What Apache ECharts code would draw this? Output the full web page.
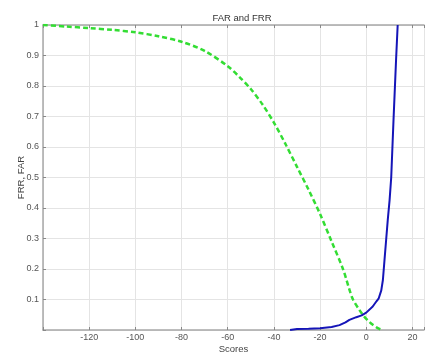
<!DOCTYPE html>
<html>
<head>
<meta charset="utf-8">
<script src="https://cdn.jsdelivr.net/npm/echarts@6/dist/echarts.min.js"></script>
<style>
html,body{margin:0;padding:0;background:#fff;}
#c{width:425px;height:354px;}
</style>
</head>
<body>
<div id="c"></div>
<script>
// FAR (green dashed): [score, rate]
const farScores = [-140,-130,-120,-110,-100,-90,-80,-70,-60,-55,-50,-45,-40,-35,-30,-25,-20,-15,-10,-6,-3,-1,1,3,5,7];
const farValues = [1.0,0.995,0.99,0.984,0.976,0.963,0.945,0.915,0.865,0.83,0.79,0.74,0.68,0.61,0.535,0.46,0.38,0.29,0.198,0.104,0.066,0.045,0.029,0.016,0.006,0.0];
// FRR (blue solid)
const frrScores = [-33,-30,-25,-20,-15,-11.6,-9,-7.3,-4.3,-2,0,2.8,4.5,5.4,6.5,7.2,7.9,8.6,9.3,10.1,10.8,11.8,12.9,13.6];
const frrValues = [0.0,0.003,0.004,0.006,0.01,0.016,0.025,0.033,0.042,0.048,0.057,0.077,0.095,0.104,0.13,0.164,0.23,0.295,0.36,0.426,0.5,0.689,0.885,1.0];
const xTicks = [-120,-100,-80,-60,-40,-20,0,20];
const yTicks = [0.1,0.2,0.3,0.4,0.5,0.6,0.7,0.8,0.9,1];

const farData = farScores.map((s,i)=>[s,farValues[i]]);
const frrData = frrScores.map((s,i)=>[s,frrValues[i]]);

const font = 'Liberation Sans, Arial, sans-serif';
const axisCol = '#a8a8a8';
const chart = echarts.init(document.getElementById('c'));
chart.setOption({
  animation:false,
  title:{text:'FAR and FRR', left:237, top:8, textAlign:'center',
    textStyle:{fontFamily:font, fontSize:9.5, fontWeight:'normal', color:'#333'}},
  grid:{left:43, right:1, top:25, bottom:24, containLabel:false, outerBoundsMode:'none'},
  xAxis:[{
    type:'value', min:-140, max:25, interval:20,
    name:'Scores', nameLocation:'middle', nameGap:19, nameMoveOverlap:false,
    nameTextStyle:{fontFamily:font, fontSize:9.5, color:'#444', verticalAlign:'middle'},
    axisLine:{show:true, onZero:false, lineStyle:{color:axisCol, width:1.5}},
    axisTick:{show:true, inside:true, length:3, lineStyle:{color:'#888'}},
    axisLabel:{fontFamily:font, fontSize:9, color:'#555', margin:3,
      formatter:v=>xTicks.includes(v)?String(v):''},
    splitLine:{show:true, lineStyle:{color:'#e4e4e4', width:1}}
  },{
    type:'value', min:-140, max:25, interval:20, position:'top',
    axisLine:{show:true, onZero:false, lineStyle:{color:axisCol, width:1.5}},
    axisTick:{show:true, inside:true, length:3, lineStyle:{color:'#888'}},
    axisLabel:{show:false}, splitLine:{show:false}
  }],
  yAxis:[{
    type:'value', min:0, max:1, interval:0.1,
    name:'FRR, FAR', nameLocation:'middle', nameGap:22, nameRotate:90, nameMoveOverlap:false,
    nameTextStyle:{fontFamily:font, fontSize:9.5, color:'#444', verticalAlign:'middle'},
    axisLine:{show:true, onZero:false, lineStyle:{color:axisCol, width:1.5}},
    axisTick:{show:true, inside:true, length:3, lineStyle:{color:'#888'}},
    axisLabel:{fontFamily:font, fontSize:9, color:'#555', margin:4,
      formatter:v=>{const r=Math.round(v*10)/10; return yTicks.includes(r)?String(r):'';}},
    splitLine:{show:true, lineStyle:{color:'#e4e4e4', width:1}}
  }],
  series:[{
    name:'FAR', type:'line', data:farData, smooth:0.3, showSymbol:false,
    lineStyle:{color:'#33dd33', width:2.5, type:[5,3]}
  },{
    name:'FRR', type:'line', data:frrData, showSymbol:false,
    lineStyle:{color:'#1515b8', width:2}
  }]
});
</script>
</body>
</html>
